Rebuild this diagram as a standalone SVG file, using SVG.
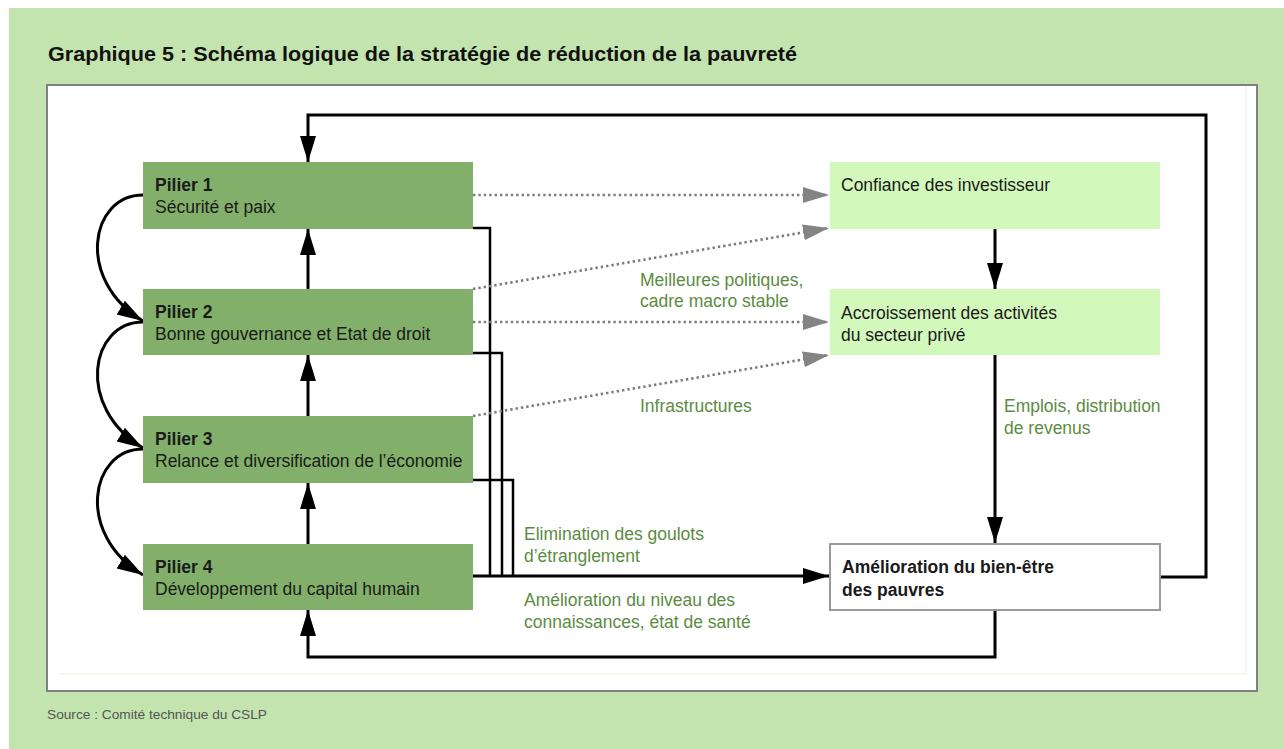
<svg xmlns="http://www.w3.org/2000/svg" width="1284" height="749" viewBox="0 0 1284 749">
  <style>
    text { font-family: "Liberation Sans", Arial, sans-serif; }
    .t { font-size: 17.5px; fill: #1a1a1a; }
    .tb { font-size: 17.5px; fill: #1a1a1a; font-weight: bold; }
    .lbl { font-size: 17.5px; fill: #5b8c3f; }
    .pil { fill: #82b06a; }
    .lg { fill: #d3f8bc; }
    .ln { fill: none; stroke: #000; stroke-width: 3; }
    .br { fill: none; stroke: #000; stroke-width: 2.5; }
    .dot { fill: none; stroke: #7c7c7c; stroke-width: 2.6; stroke-dasharray: 2.4 3; }
  </style>
  <defs>
    <marker id="ah" markerUnits="userSpaceOnUse" markerWidth="27" markerHeight="17" refX="26" refY="8" orient="auto">
      <path d="M0,0 L26,8 L0,16 z" fill="#000"/>
    </marker>
    <marker id="ahg" markerUnits="userSpaceOnUse" markerWidth="27" markerHeight="17" refX="26" refY="8" orient="auto">
      <path d="M0,0 L26,8 L0,16 z" fill="#848484"/>
    </marker>
  </defs>

  <rect x="9" y="8" width="1275" height="741" fill="#c3e4ae"/>
  <text x="48" y="61" font-size="20" font-weight="bold" fill="#111" textLength="749" lengthAdjust="spacingAndGlyphs">Graphique 5 : Schéma logique de la stratégie de réduction de la pauvreté</text>
  <rect x="47" y="85" width="1210" height="606" fill="#fff" stroke="#808080" stroke-width="2"/>
  <line x1="58" y1="674" x2="1246" y2="674" stroke="#e3f1da" stroke-width="1"/>
  <line x1="1246" y1="86" x2="1246" y2="674" stroke="#ececec" stroke-width="1"/>
  <text x="47" y="719" font-size="13" fill="#555" textLength="220" lengthAdjust="spacingAndGlyphs">Source : Comité technique du CSLP</text>

  <g id="connectors">
    <path class="ln" d="M1160,577 H1206 V115 H308 V162" marker-end="url(#ah)"/>
    <path class="ln" d="M995,610 V657 H308 V610" marker-end="url(#ah)"/>
    <path class="ln" d="M308,289 V229" marker-end="url(#ah)"/>
    <path class="ln" d="M308,416 V355" marker-end="url(#ah)"/>
    <path class="ln" d="M308,544 V483" marker-end="url(#ah)"/>
    <path class="ln" d="M995,229 V289" marker-end="url(#ah)"/>
    <path class="ln" d="M995,355 V543" marker-end="url(#ah)"/>
    <path class="br" d="M473,228 H490 V576"/>
    <path class="br" d="M473,353 H502 V576"/>
    <path class="br" d="M473,480 H513 V576"/>
    <path class="ln" d="M473,576 H829" marker-end="url(#ah)"/>
    <path class="ln" d="M143,195 C90,195 75,280 143,321" marker-end="url(#ah)"/>
    <path class="ln" d="M143,322 C90,322 75,407 143,448" marker-end="url(#ah)"/>
    <path class="ln" d="M143,449 C90,449 75,534 143,575" marker-end="url(#ah)"/>
    <path class="dot" d="M473,195 H829" marker-end="url(#ahg)"/>
    <path class="dot" d="M473,289 L829,228" marker-end="url(#ahg)"/>
    <path class="dot" d="M473,322 H829" marker-end="url(#ahg)"/>
    <path class="dot" d="M473,416 L829,355" marker-end="url(#ahg)"/>
    <text class="lbl" x="640" y="286">Meilleures politiques,</text>
    <text class="lbl" x="640" y="307">cadre macro stable</text>
    <text class="lbl" x="640" y="412">Infrastructures</text>
    <text class="lbl" x="1004" y="412">Emplois, distribution</text>
    <text class="lbl" x="1004" y="434">de revenus</text>
    <text class="lbl" x="524" y="540">Elimination des goulots</text>
    <text class="lbl" x="524" y="562">d’étranglement</text>
    <text class="lbl" x="524" y="606">Amélioration du niveau des</text>
    <text class="lbl" x="524" y="628">connaissances, état de santé</text>
  </g>

  <g id="pilier1">
    <rect class="pil" x="143" y="162" width="330" height="67"/>
    <text class="tb" x="155" y="191">Pilier 1</text>
    <text class="t" x="155" y="213">Sécurité et paix</text>
  </g>
  <g id="pilier2">
    <rect class="pil" x="143" y="289" width="330" height="66"/>
    <text class="tb" x="155" y="318">Pilier 2</text>
    <text class="t" x="155" y="340">Bonne gouvernance et Etat de droit</text>
  </g>
  <g id="pilier3">
    <rect class="pil" x="143" y="416" width="330" height="67"/>
    <text class="tb" x="155" y="445">Pilier 3</text>
    <text class="t" x="155" y="467">Relance et diversification de l’économie</text>
  </g>
  <g id="pilier4">
    <rect class="pil" x="143" y="544" width="330" height="66"/>
    <text class="tb" x="155" y="573">Pilier 4</text>
    <text class="t" x="155" y="595">Développement du capital humain</text>
  </g>
  <g id="confiance">
    <rect class="lg" x="830" y="162" width="330" height="67"/>
    <text class="t" x="841" y="191">Confiance des investisseur</text>
  </g>
  <g id="accroissement">
    <rect class="lg" x="830" y="289" width="330" height="66"/>
    <text class="t" x="841" y="319">Accroissement des activités</text>
    <text class="t" x="841" y="341">du secteur privé</text>
  </g>
  <g id="bienetre">
    <rect x="830" y="544" width="330" height="66" fill="#fff" stroke="#9a9a9a" stroke-width="2"/>
    <text class="tb" x="842" y="573">Amélioration du bien-être</text>
    <text class="tb" x="842" y="596">des pauvres</text>
  </g>
</svg>
